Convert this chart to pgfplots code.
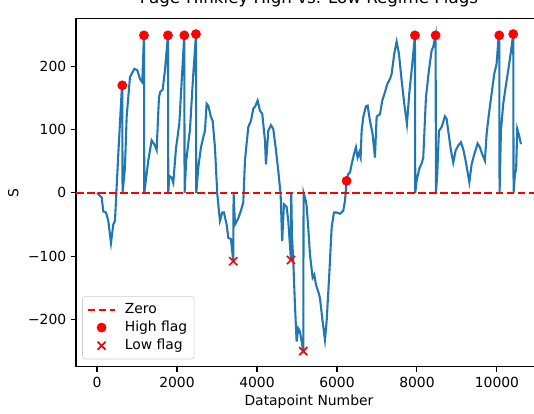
\documentclass[border=0pt]{standalone}
\usepackage{fontspec}
\setmainfont{DejaVu Sans}
\usepackage{pgfplots}
\pgfplotsset{compat=1.18}
\definecolor{tabblue}{RGB}{31,119,180}
\pgfplotsset{
  zeroleg/.style={legend image code/.code={\draw[##1] (0pt,0pt) -- (20pt,0pt);}},
  markleg/.style={legend image code/.code={\draw[##1] plot coordinates {(10pt,0pt)};}},
}

\begin{document}
\begin{tikzpicture}
\useasboundingbox (-54.7pt,-33.8pt) rectangle (329.8pt,264.2pt);
\clip (-54.7pt,-33.8pt) rectangle (329.8pt,264.2pt);
\begin{axis}[
    at={(0,0)}, anchor=south west,
    scale only axis,
    width=335.5pt, height=250.6pt,
    xmin=-525, xmax=11125,
    ymin=-275, ymax=275,
    scaled ticks=false,
    xtick={0,2000,4000,6000,8000,10000},
    xticklabels={0,2000,4000,6000,8000,10000},
    ytick={-200,-100,0,100,200},
    yticklabels={−200,−100,0,100,200},
    tick pos=left,
    tick align=outside,
    major tick length=3.5pt,
    every tick/.style={black, line width=0.8pt},
    axis line style={black, line width=0.8pt},
    tick label style={font=\fontsize{10}{12}\selectfont},
    label style={font=\fontsize{10}{12}\selectfont},
    xlabel={Datapoint Number},
    xlabel style={yshift=1.5pt},
    ylabel={S},
    title={Page-Hinkley High vs. Low Regime Flags},
    title style={font=\fontsize{12}{14.4}\selectfont, at={(0.5,1)}, anchor=base, yshift=5pt},
    legend style={at={(0,0)}, anchor=south west, xshift=4.5pt, yshift=5.5pt,
        draw=black!20, rounded corners=2pt, fill=white,
        font=\fontsize{10}{12}\selectfont, row sep=0pt, inner sep=3pt,
        /tikz/every odd column/.append style={column sep=4pt}},
    legend cell align=left,
    clip=true,
]
\addplot[tabblue, line width=1.5pt, forget plot] coordinates {
(0,0) (117,-7) (158,-29) (225,-31) (283,-44) (350,-79) (408,-50) (450,-44)
(533,61) (617,160) (633,170) (640,0) (700,40) (742,120) (825,183) (933,196)
(1008,194) (1075,180) (1133,175) (1175,249) (1183,0) (1283,51) (1367,83)
(1450,75) (1492,68) (1550,151) (1583,160) (1642,163) (1700,194) (1775,249)
(1783,0) (1808,27) (1867,24) (1908,16) (1975,70) (2058,109) (2183,249)
(2191,0) (2230,50) (2325,100) (2400,180) (2475,250) (2483,0) (2533,40)
(2600,72) (2658,88) (2700,98) (2742,141) (2783,138) (2850,120) (2892,114)
(2950,72) (3008,-2) (3075,-44) (3133,-31) (3175,-31) (3242,-50) (3283,-71)
(3350,-73) (3408,-108) (3416,0) (3450,-50) (3533,-40) (3600,-28) (3658,-15)
(3700,51) (3783,104) (3850,114) (3908,133) (3958,137) (4017,146) (4075,130)
(4133,125) (4200,83) (4225,45) (4283,98) (4350,107) (4408,101) (4467,72)
(4533,35) (4592,-2) (4630,-76) (4675,-18) (4742,-22) (4783,-44) (4850,-106)
(4858,0) (4875,-66) (4908,-108) (4950,-177) (4992,-235) (5033,-214)
(5075,-219) (5117,-235) (5158,-250) (5166,0) (5225,-13) (5242,-21)
(5283,-55) (5325,-97) (5392,-134) (5433,-129) (5475,-145) (5533,-156)
(5575,-166) (5642,-203) (5700,-232) (5742,-203) (5808,-129) (5867,-55)
(5925,-31) (5992,-31) (6075,-33) (6158,-28) (6200,-13) (6242,19) (6283,30)
(6325,32) (6367,45) (6425,61) (6475,72) (6517,56) (6558,64) (6592,56)
(6617,98) (6658,120) (6725,137) (6767,138) (6825,114) (6892,93) (6950,56)
(6992,120) (7017,122) (7075,124) (7133,146) (7200,159) (7258,172) (7325,180)
(7367,188) (7433,220) (7492,239) (7550,220) (7617,178) (7683,141) (7750,109)
(7808,157) (7883,204) (7950,249) (7958,0) (7992,19) (8058,38) (8125,48)
(8158,56) (8225,151) (8300,194) (8367,225) (8408,231) (8467,249) (8475,0)
(8508,30) (8550,98) (8617,104) (8700,121) (8742,117) (8800,90) (8850,67)
(8908,48) (8967,67) (9033,75) (9100,80) (9158,69) (9217,51) (9310,17)
(9367,45) (9433,61) (9517,78) (9575,72) (9633,61) (9700,51) (9742,93)
(9800,125) (9867,157) (9933,188) (9992,204) (10033,239) (10058,249)
(10066,0) (10100,98) (10158,141) (10217,167) (10283,194) (10367,231)
(10408,251) (10416,0) (10450,30) (10480,37) (10508,101) (10558,90) (10600,77)
};
\addplot[red, line width=1.5pt, dash pattern=on 5.55pt off 2.4pt, zeroleg] coordinates {(-525,0) (11125,0)};
\addlegendentry{Zero}
\addplot[only marks, mark=*, mark size=3.3pt, red, mark options={draw=red, fill=red}, markleg] coordinates {
(633,170) (1175,249) (1775,249) (2183,249) (2475,251) (6242,19)
(7950,249) (8467,249) (10058,249) (10408,251)
};
\addlegendentry{High flag}
\addplot[only marks, mark=x, mark size=4.1pt, red, mark options={line width=1.2pt}, markleg] coordinates {
(3408,-108) (4850,-106) (5158,-250)
};
\addlegendentry{Low flag}
\end{axis}
\end{tikzpicture}
\end{document}
